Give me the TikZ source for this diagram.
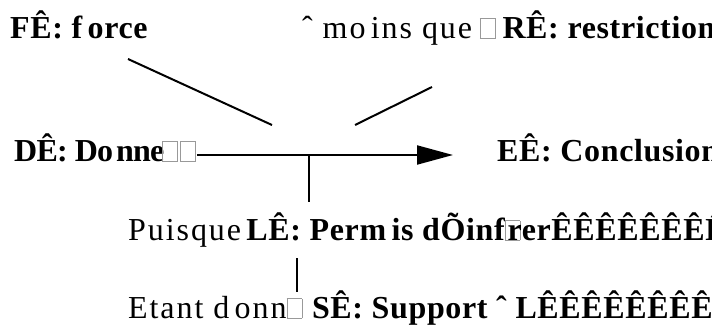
\documentclass[tikz,border=0pt]{standalone}
\usepackage{fontspec}
\usetikzlibrary{arrows.meta}
\setmainfont{Liberation Serif}
\newfontfamily\lblfont[LetterSpace=6]{Liberation Serif}
% empty box standing for a glyph the font could not show
\newcommand\nochar{{\color{gray!80}\setlength\fboxsep{0pt}\setlength\fboxrule{0.6pt}\fbox{\rule{0pt}{0.6em}\hspace{0.45em}}}}
\newcommand\bt[1]{{\addfontfeatures{LetterSpace=2}\bfseries #1}}
\newcommand\btn[1]{{\addfontfeatures{LetterSpace=-2.5}\bfseries #1}}
\tikzset{
  lbl/.style={anchor=base west, inner sep=0pt, font=\lblfont\fontsize{32}{38}\selectfont},
  wire/.style={line width=2pt, line cap=butt},
}
\begin{document}
\begin{tikzpicture}[x=1pt, y=-1pt]
\useasboundingbox (0,0) rectangle (712,324);
% labels
\node[lbl] (force) at (10,38) {\bt{FÊ: f\,orce}};
\node[lbl] (restr) at (302,38) {ˆ mo\,ins que\kern-2pt{} \nochar\kern-3pt{} \bt{RÊ: restriction}};
\node[lbl] (data) at (14,161) {\btn{DÊ: Do\kern3pt nne}\kern-2pt\nochar\kern2pt\nochar};
\node[lbl] (concl) at (497,161) {\bt{EÊ: Conclusion}};
\node[lbl] (warrant) at (128,240) {Puisque\,\bt{LÊ: Perm\,is dÕinf\nochar\kern-0.4em rerÊÊÊÊÊÊÊÊ}};
\node[lbl] (backing) at (128,318) {Etant d\,onn\nochar\ \bt{SÊ: Support ˆ LÊÊÊÊÊÊÊÊ}};
% connector ends
\coordinate (fA) at (128,59);
\coordinate (fB) at (272,125);
\coordinate (rA) at (355,125);
\coordinate (rB) at (432,87);
\coordinate (dA) at (197,155);
\coordinate (eA) at (453,155);
\coordinate (j) at (309,155);
\coordinate (jB) at (309,202);
\coordinate (sA) at (297,258);
\coordinate (sB) at (297,292);
% connectors
\draw[wire] (fA) -- (fB);
\draw[wire] (rA) -- (rB);
\draw[wire, -{Triangle[length=36pt,width=19pt]}] (dA) -- (eA);
\draw[wire] (j) -- (jB);
\draw[wire] (sA) -- (sB);
\end{tikzpicture}
\end{document}
